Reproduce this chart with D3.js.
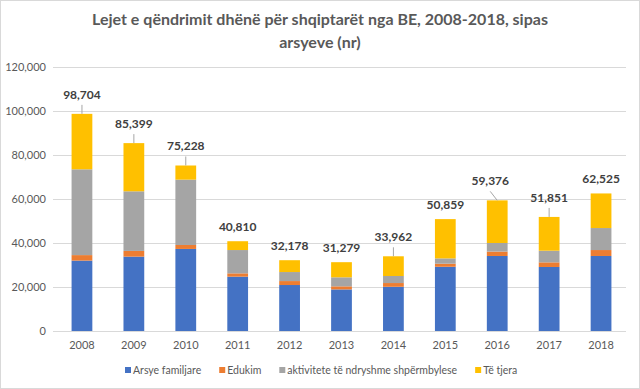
<!DOCTYPE html>
<html>
<head>
<meta charset="utf-8">
<script src="https://cdn.jsdelivr.net/npm/d3@7"></script>
<style>
  body { margin: 0; background: #fff; }
  svg { display: block; font-family: Lato, "Liberation Sans", sans-serif; }
</style>
</head>
<body>
<svg id="chart" width="640" height="389"></svg>
<script>
// data
var years = ['2008', '2009', '2010', '2011', '2012', '2013', '2014', '2015', '2016', '2017', '2018'];
var familjare = [32000, 33800, 37300, 24700, 20900, 18900, 20100, 29200, 34100, 29100, 34100];
var edukim = [2500, 2600, 1800, 1500, 1800, 1400, 1700, 1400, 2000, 2100, 2700];
var aktivitete = [39000, 27100, 29700, 10600, 4100, 4100, 3200, 2400, 3900, 5300, 10000];
var totals = [98704, 85399, 75228, 40810, 32178, 31279, 33962, 50859, 59376, 51851, 62525];
var seriesNames = ['Arsye familjare', 'Edukim', 'aktivitete të ndryshme shpërmbylese', 'Të tjera'];
var yTicks = [0, 20000, 40000, 60000, 80000, 100000, 120000];

// "Të tjera" is whatever is left of the total
var tjera = totals.map(function(t, i) { return t - familjare[i] - edukim[i] - aktivitete[i]; });

var colors = ['#4472C4', '#ED7D31', '#A5A5A5', '#FFC000'];
var keys = ['familjare', 'edukim', 'aktivitete', 'tjera'];

var rows = years.map(function(y, i) {
  return { year: y, familjare: familjare[i], edukim: edukim[i], aktivitete: aktivitete[i], tjera: tjera[i], total: totals[i] };
});

var svg = d3.select('#chart');

// outer frame
svg.append('rect')
  .attr('x', 0.5).attr('y', 0.5)
  .attr('width', 639).attr('height', 388)
  .attr('fill', '#fff').attr('stroke', '#d9d9d9');

// title
svg.append('text')
  .attr('x', 320).attr('y', 25)
  .attr('text-anchor', 'middle')
  .attr('font-size', 16).attr('font-weight', 'bold').attr('fill', '#595959')
  .text('Lejet e qëndrimit dhënë për shqiptarët nga BE, 2008-2018, sipas');
svg.append('text')
  .attr('x', 320).attr('y', 48)
  .attr('text-anchor', 'middle')
  .attr('font-size', 16).attr('font-weight', 'bold').attr('fill', '#595959')
  .text('arsyeve (nr)');

var x = d3.scaleBand()
  .domain(years)
  .range([56, 627])
  .paddingInner(0.6)
  .paddingOuter(0.3);

var y = d3.scaleLinear()
  .domain([0, 120000])
  .range([331, 67]);

// gridlines
svg.append('g')
  .selectAll('line')
  .data(yTicks)
  .enter()
  .append('line')
  .attr('x1', 53).attr('x2', 626)
  .attr('y1', function(d) { return Math.round(y(d)) + 0.5; })
  .attr('y2', function(d) { return Math.round(y(d)) + 0.5; })
  .attr('stroke', '#d9d9d9').attr('stroke-width', 1);

// y axis labels
var yAxis = d3.axisLeft(y).tickValues(yTicks).tickFormat(d3.format(',')).tickSize(0).tickPadding(7);
svg.append('g')
  .attr('transform', 'translate(53,0)')
  .call(yAxis)
  .call(function(g) { g.select('.domain').remove(); })
  .selectAll('text')
  .attr('font-size', 11).attr('fill', '#595959').attr('font-family', 'Lato, sans-serif');

// x axis labels
var xAxis = d3.axisBottom(x).tickSize(0).tickPadding(10);
svg.append('g')
  .attr('transform', 'translate(0,331)')
  .call(xAxis)
  .call(function(g) { g.select('.domain').remove(); })
  .selectAll('text')
  .attr('font-size', 11).attr('fill', '#595959').attr('font-family', 'Lato, sans-serif');

// stacked bars
var stack = d3.stack().keys(keys);
var layers = stack(rows);

svg.append('g')
  .selectAll('g')
  .data(layers)
  .enter()
  .append('g')
  .attr('fill', function(d, i) { return colors[i]; })
  .selectAll('rect')
  .data(function(d) { return d; })
  .enter()
  .append('rect')
  .attr('x', function(d) { return x(d.data.year); })
  .attr('width', x.bandwidth())
  .attr('y', function(d) { return y(d[1]); })
  .attr('height', function(d) { return y(d[0]) - y(d[1]); });

// total labels, some lifted with a leader line like in the original
var leader = { '2008': 0, '2009': 0, '2010': 0, '2014': 0, '2016': -7, '2017': 0 };

var lbl = svg.append('g');
rows.forEach(function(r) {
  var cx = x(r.year) + x.bandwidth() / 2;
  var top = y(r.total);
  var hasLeader = leader.hasOwnProperty(r.year);
  var lift = hasLeader ? 15 : 10;
  var lx = cx + (hasLeader ? leader[r.year] : 0);
  if (hasLeader) {
    lbl.append('line')
      .attr('x1', lx).attr('y1', top - lift + 6)
      .attr('x2', cx).attr('y2', top)
      .attr('stroke', '#a6a6a6').attr('stroke-width', 1);
  }
  lbl.append('text')
    .attr('x', lx).attr('y', top - lift)
    .attr('text-anchor', 'middle')
    .attr('font-size', 12).attr('font-weight', 'bold').attr('fill', '#404040')
    .text(d3.format(',')(r.total));
});

// legend, laid out one after another and centred
var legend = svg.append('g');
var items = legend.selectAll('g')
  .data(seriesNames)
  .enter()
  .append('g');

items.append('rect')
  .attr('x', 0).attr('y', -4)
  .attr('width', 6).attr('height', 6)
  .attr('fill', function(d, i) { return colors[i]; });

items.append('text')
  .attr('x', 8).attr('y', 3)
  .attr('font-size', 10.5).attr('fill', '#595959')
  .text(function(d) { return d; });

var pos = 0;
var offsets = [];
items.each(function() {
  var w = d3.select(this).select('text').node().getComputedTextLength();
  offsets.push(pos);
  pos += 8 + w + 18;
});
var total = pos - 18;
items.attr('transform', function(d, i) { return 'translate(' + offsets[i] + ',0)'; });
legend.attr('transform', 'translate(' + Math.round(321 - total / 2) + ',371)');
</script>
</body>
</html>
